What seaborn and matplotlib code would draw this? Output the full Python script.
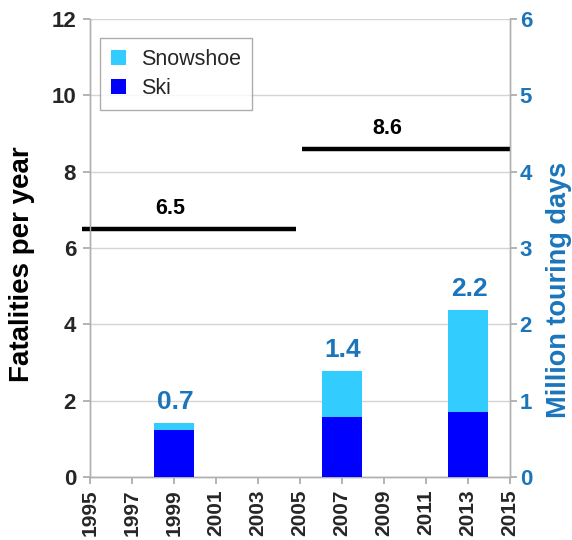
import matplotlib
matplotlib.use("Agg")
import matplotlib.pyplot as plt
import seaborn as sns
import pandas as pd
from matplotlib.patches import Patch

# Data
years = [1999, 2007, 2013]
ski = [0.62, 0.79, 0.85]            # million touring days
snowshoe = [0.09, 0.60, 1.34]       # million touring days
bar_labels = ["0.7", "1.4", "2.2"]
periods = [(1994.6, 2004.8), (2005.1, 2015.0)]
fatalities = [6.5, 8.6]
fatality_labels = ["6.5", "8.6"]
xticks = list(range(1995, 2016, 2))
left_ticks = [0, 2, 4, 6, 8, 10, 12]
right_ticks = [0, 1, 2, 3, 4, 5, 6]

sns.set_theme(style="white")
plt.rcParams['font.family'] = ['Liberation Sans', 'DejaVu Sans']

SNOW = "#33ccff"
SKI = "#0000ff"
BLUE = "#1b75bb"
GRID = "#d4d4d4"

df = pd.DataFrame({"year": years, "ski": ski, "snowshoe": snowshoe})
df["total"] = df["ski"] + df["snowshoe"]

fig = plt.figure(figsize=(5.72, 5.40), dpi=100)
ax = fig.add_axes([90/572, 1-477/540, 420/572, 458/540])
ax2 = ax.twinx()

# left axis: grid and fatality lines
ax.set_ylim(0, 12)
ax.set_yticks(left_ticks)
ax.yaxis.grid(True, color=GRID, linewidth=1)
ax.set_axisbelow(True)
for (x0, x1), v, lab in zip(periods, fatalities, fatality_labels):
    ax.plot([x0, x1], [v, v], color="black", linewidth=3.2, clip_on=False,
            solid_capstyle="butt", zorder=5)
    ax.text((x0 + x1) / 2 - 0.9, v + 0.25, lab, ha="center", va="bottom",
            fontsize=15.5, fontweight="bold", color="black")

# right axis: stacked bars
sns.barplot(data=df, x="year", y="total", native_scale=True, width=1.9/6,
            color=SNOW, saturation=1, linewidth=0, ax=ax2, zorder=3)
sns.barplot(data=df, x="year", y="ski", native_scale=True, width=1.9/6,
            color=SKI, saturation=1, linewidth=0, ax=ax2, zorder=4)
for x, t, lab in zip(df["year"], df["total"], bar_labels):
    ax2.text(x + 0.05, t + 0.12, lab, ha="center", va="bottom",
             fontsize=19, fontweight="bold", color=BLUE)

ax2.set_ylim(0, 6)
ax2.set_yticks(right_ticks)
ax.set_xlim(1995, 2015)
ax2.set_xlim(1995, 2015)
ax.set_xticks(xticks)
ax.set_xticklabels([str(y) for y in xticks], rotation=90, fontsize=15,
                   fontweight="bold")

ax.tick_params(axis="y", labelsize=16, length=5, color="#aaaaaa", pad=5,
               direction="out")
for t in ax.get_yticklabels():
    t.set_fontweight("bold")
ax.tick_params(axis="x", length=5, color="#aaaaaa", direction="out", pad=4,
               bottom=True)
ax2.tick_params(axis="y", labelsize=16, labelcolor=BLUE, length=5,
                color="#aaaaaa", direction="out", pad=2, right=True)
for t in ax2.get_yticklabels():
    t.set_fontweight("bold")

for a in (ax, ax2):
    for s in a.spines.values():
        s.set_color("#b0b0b0")
        s.set_linewidth(1)
    a.spines["top"].set_visible(False)

ax.set_xlabel("")
ax2.set_xlabel("")
ax.set_ylabel("")
ax2.set_ylabel("")
fig.text(22/572, 1-264/540, "Fatalities per year", rotation=90, ha="center",
         va="center", fontsize=20, fontweight="bold", color="black")
fig.text(559/572, 1-290/540, "Million touring days", rotation=90, ha="center",
         va="center", fontsize=19.5, fontweight="bold", color=BLUE)

handles = [Patch(facecolor=SNOW, edgecolor="none", label="Snowshoe"),
           Patch(facecolor=SKI, edgecolor="none", label="Ski")]
leg = ax2.legend(handles=handles, loc="upper left",
                 bbox_to_anchor=(10/420, 1-19/458), fontsize=15.5,
                 frameon=True, fancybox=False, edgecolor="#999999",
                 handlelength=0.7, handleheight=0.7, handletextpad=0.7,
                 borderpad=0.5, labelspacing=0.4, borderaxespad=0)
leg.get_frame().set_linewidth(1)

fig.savefig("out.png", dpi=100)
